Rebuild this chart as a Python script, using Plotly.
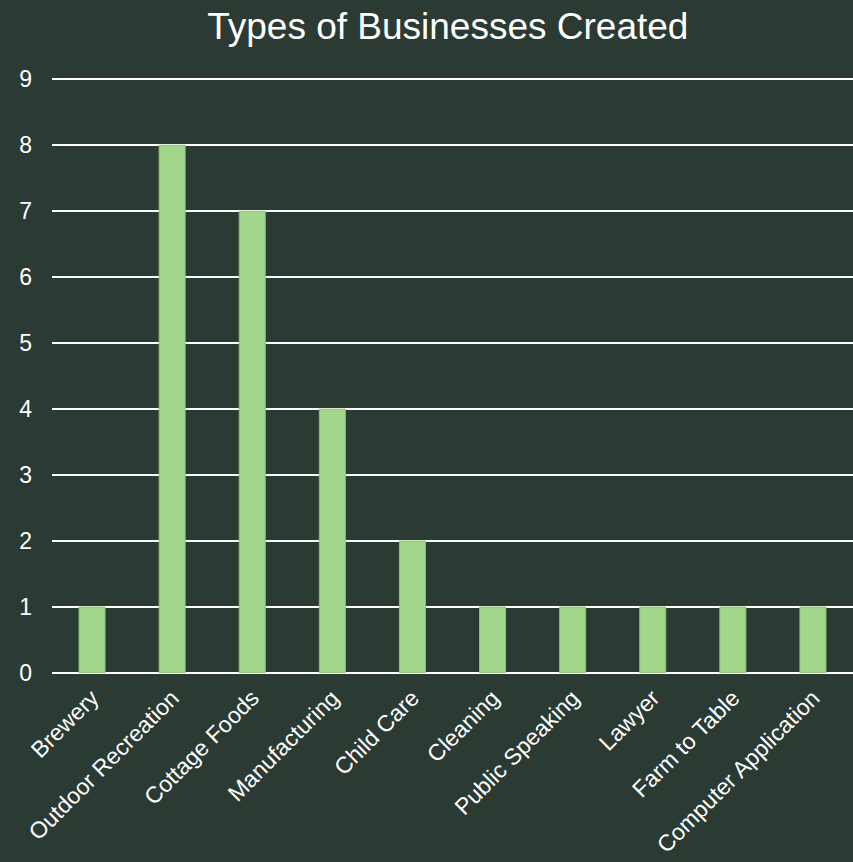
import plotly.graph_objects as go

categories = ["Brewery", "Outdoor Recreation", "Cottage Foods", "Manufacturing",
              "Child Care", "Cleaning", "Public Speaking", "Lawyer",
              "Farm to Table", "Computer Application"]
counts = [1, 8, 7, 4, 2, 1, 1, 1, 1, 1]
y_ticks = [0, 1, 2, 3, 4, 5, 6, 7, 8, 9]

bg = "#2b3a32"
font_family = "Liberation Sans, Arial, sans-serif"

fig = go.Figure(go.Bar(
    x=categories, y=counts,
    marker=dict(color="#a1d68b", line=dict(color="#8cc076", width=1)),
    hoverinfo="x+y",
))

fig.update_layout(
    width=853, height=862,
    paper_bgcolor=bg, plot_bgcolor=bg,
    margin=dict(l=52, r=0, t=78, b=189),
    bargap=0.675,
    showlegend=False,
    title=dict(text="Types of Businesses Created", x=0.525, xanchor="center",
               y=0.985, yanchor="top",
               font=dict(family=font_family, size=37, color="#ffffff")),
    font=dict(family=font_family, color="#ffffff"),
)
fig.update_xaxes(
    tickangle=-45, tickfont=dict(size=23, color="#ffffff"),
    showgrid=False, showline=False, zeroline=False, ticks="",
    ticklabelstandoff=6, automargin=False,
)
fig.update_yaxes(
    range=[0, 9.02], tickvals=y_ticks,
    tickfont=dict(size=23, color="#ffffff"),
    showgrid=True, gridcolor="#ffffff", gridwidth=2,
    zeroline=True, zerolinecolor="#ffffff", zerolinewidth=2,
    showline=False, ticks="", ticklabelstandoff=19, automargin=False,
)

fig.write_html("out.html")
